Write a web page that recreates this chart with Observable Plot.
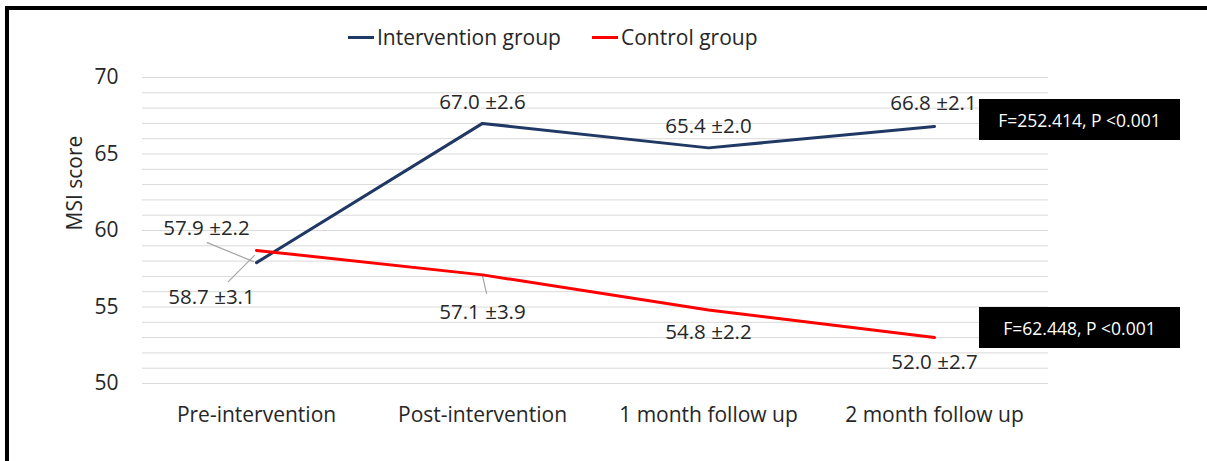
<!DOCTYPE html>
<html>
<head>
<meta charset="utf-8">
<script src="https://cdn.jsdelivr.net/npm/d3@7"></script>
<script src="https://cdn.jsdelivr.net/npm/@observablehq/plot@0.6"></script>
<style>
  html, body { margin: 0; padding: 0; background: #fff; }
  #wrap { position: relative; width: 1207px; height: 461px; overflow: hidden; font-family: "Open Sans", Lato, sans-serif; color: #262626; }
  #wrap svg { position: absolute; left: 0; top: 0; }
  .border-top { position: absolute; left: 5px; top: 6px; width: 1202px; height: 4px; background: #000; }
  .border-left { position: absolute; left: 5px; top: 6px; width: 4px; height: 455px; background: #000; }
  .legend { position: absolute; top: 23px; font-size: 21px; white-space: nowrap; display: flex; align-items: center; }
  .legend .sw { display: inline-block; width: 26px; height: 3px; margin-right: 3px; }
  .statbox { position: absolute; left: 979px; width: 201px; height: 41px; background: #000; color: #fff; font-size: 17.5px; display: flex; align-items: center; justify-content: center; }
</style>
</head>
<body>
<div id="wrap"></div>
<script>
// ---- data ----
const categories = ["Pre-intervention", "Post-intervention", "1 month follow up", "2 month follow up"];
const interventionMean = [57.9, 67.0, 65.4, 66.8];
const interventionSD = [2.2, 2.6, 2.0, 2.1];
// plotted positions of the control line (the last point sits on the 53 gridline in the picture)
const controlMean = [58.7, 57.1, 54.8, 53.0];
// values printed in the control labels
const controlLabelMean = [58.7, 57.1, 54.8, 52.0];
const controlSD = [3.1, 3.9, 2.2, 2.7];
const yTicks = [50, 55, 60, 65, 70];
const gridValues = d3.range(50, 71, 1);
const seriesNames = ["Intervention group", "Control group"];
const statTexts = ["F=252.414, P <0.001", "F=62.448, P <0.001"];

// ---- styling / layout (not data) ----
const colors = { "Intervention group": "#203864", "Control group": "#ff0000" };
const labelOffsets = {
  "Intervention group": [[-50, -34], [0, -21], [0, -21], [-1, -23]],
  "Control group": [[-45, 47], [0, 38], [0, 22], [0, 25]]
};
// leader lines: [series, index, dx, dy, length, rotate]
const leaders = [
  ["Intervention group", 0, -3, -1, 50, -67.6],
  ["Control group", 0, -2, 5, 37, -135],
  ["Control group", 1, 0, 1, 18, 167]
];
const FS = 21;

// ---- build table ----
const rows = [];
categories.forEach((c, i) => {
  rows.push({series: seriesNames[0], cat: c, i, value: interventionMean[i],
             label: `${interventionMean[i].toFixed(1)} ±${interventionSD[i].toFixed(1)}`});
});
categories.forEach((c, i) => {
  rows.push({series: seriesNames[1], cat: c, i, value: controlMean[i],
             label: `${controlLabelMean[i].toFixed(1)} ±${controlSD[i].toFixed(1)}`});
});

const textMarks = rows.map(r => {
  const [dx, dy] = labelOffsets[r.series][r.i];
  return Plot.text([r], {x: "cat", y: "value", text: "label", dx, dy,
    fill: "#262626", fontSize: 20.5, textAnchor: "middle", lineAnchor: "middle"});
});

const lineShape = { draw(context, l) { context.moveTo(0, 0); context.lineTo(0, -l); } };
const leaderMarks = leaders.map(([s, i, dx, dy, len, rot]) => {
  const r = rows.find(d => d.series === s && d.i === i);
  return Plot.vector([r], {x: "cat", y: "value", dx, dy, length: len, rotate: rot,
    anchor: "start", shape: lineShape, stroke: "#a6a6a6", strokeWidth: 1.2});
});

const plot = Plot.plot({
  width: 1207,
  height: 461,
  marginTop: 77,
  marginBottom: 78,
  marginLeft: 142,
  marginRight: 159,
  style: { fontFamily: "'Open Sans', Lato, sans-serif", color: "#262626", background: "transparent" },
  x: { type: "point", domain: categories, padding: 0.5, label: null, tickSize: 0, tickPadding: 24 },
  y: { domain: [50, 70], ticks: yTicks, label: null, tickSize: 0, tickPadding: 24 },
  color: { domain: seriesNames, range: seriesNames.map(s => colors[s]) },
  marks: [
    Plot.ruleY(gridValues, { stroke: "#d9d9d9", strokeWidth: 1 }),
    Plot.axisY({ ticks: yTicks, tickSize: 0, tickPadding: 24, fontSize: FS, label: null }),
    Plot.axisX({ tickSize: 0, tickPadding: 24, fontSize: FS, label: null }),
    Plot.text(["MSI score"], { frameAnchor: "left", dx: -67, rotate: -90, fontSize: FS, fill: "#262626", text: d => d }),
    ...leaderMarks,
    Plot.line(rows, { x: "cat", y: "value", z: "series", stroke: "series", strokeWidth: 3 }),
    ...textMarks
  ]
});

const wrap = document.getElementById("wrap");
wrap.appendChild(plot);

// border
const bt = document.createElement("div"); bt.className = "border-top"; wrap.appendChild(bt);
const bl = document.createElement("div"); bl.className = "border-left"; wrap.appendChild(bl);

// legend
const legendPos = [348, 592];
seriesNames.forEach((s, k) => {
  const el = document.createElement("div");
  el.className = "legend";
  el.style.left = legendPos[k] + "px";
  el.innerHTML = `<span class="sw" style="background:${colors[s]}"></span><span>${s}</span>`;
  wrap.appendChild(el);
});

// statistic boxes
const boxTops = [99, 307];
statTexts.forEach((t, k) => {
  const el = document.createElement("div");
  el.className = "statbox";
  el.style.top = boxTops[k] + "px";
  el.textContent = t;
  wrap.appendChild(el);
});
</script>
</body>
</html>
